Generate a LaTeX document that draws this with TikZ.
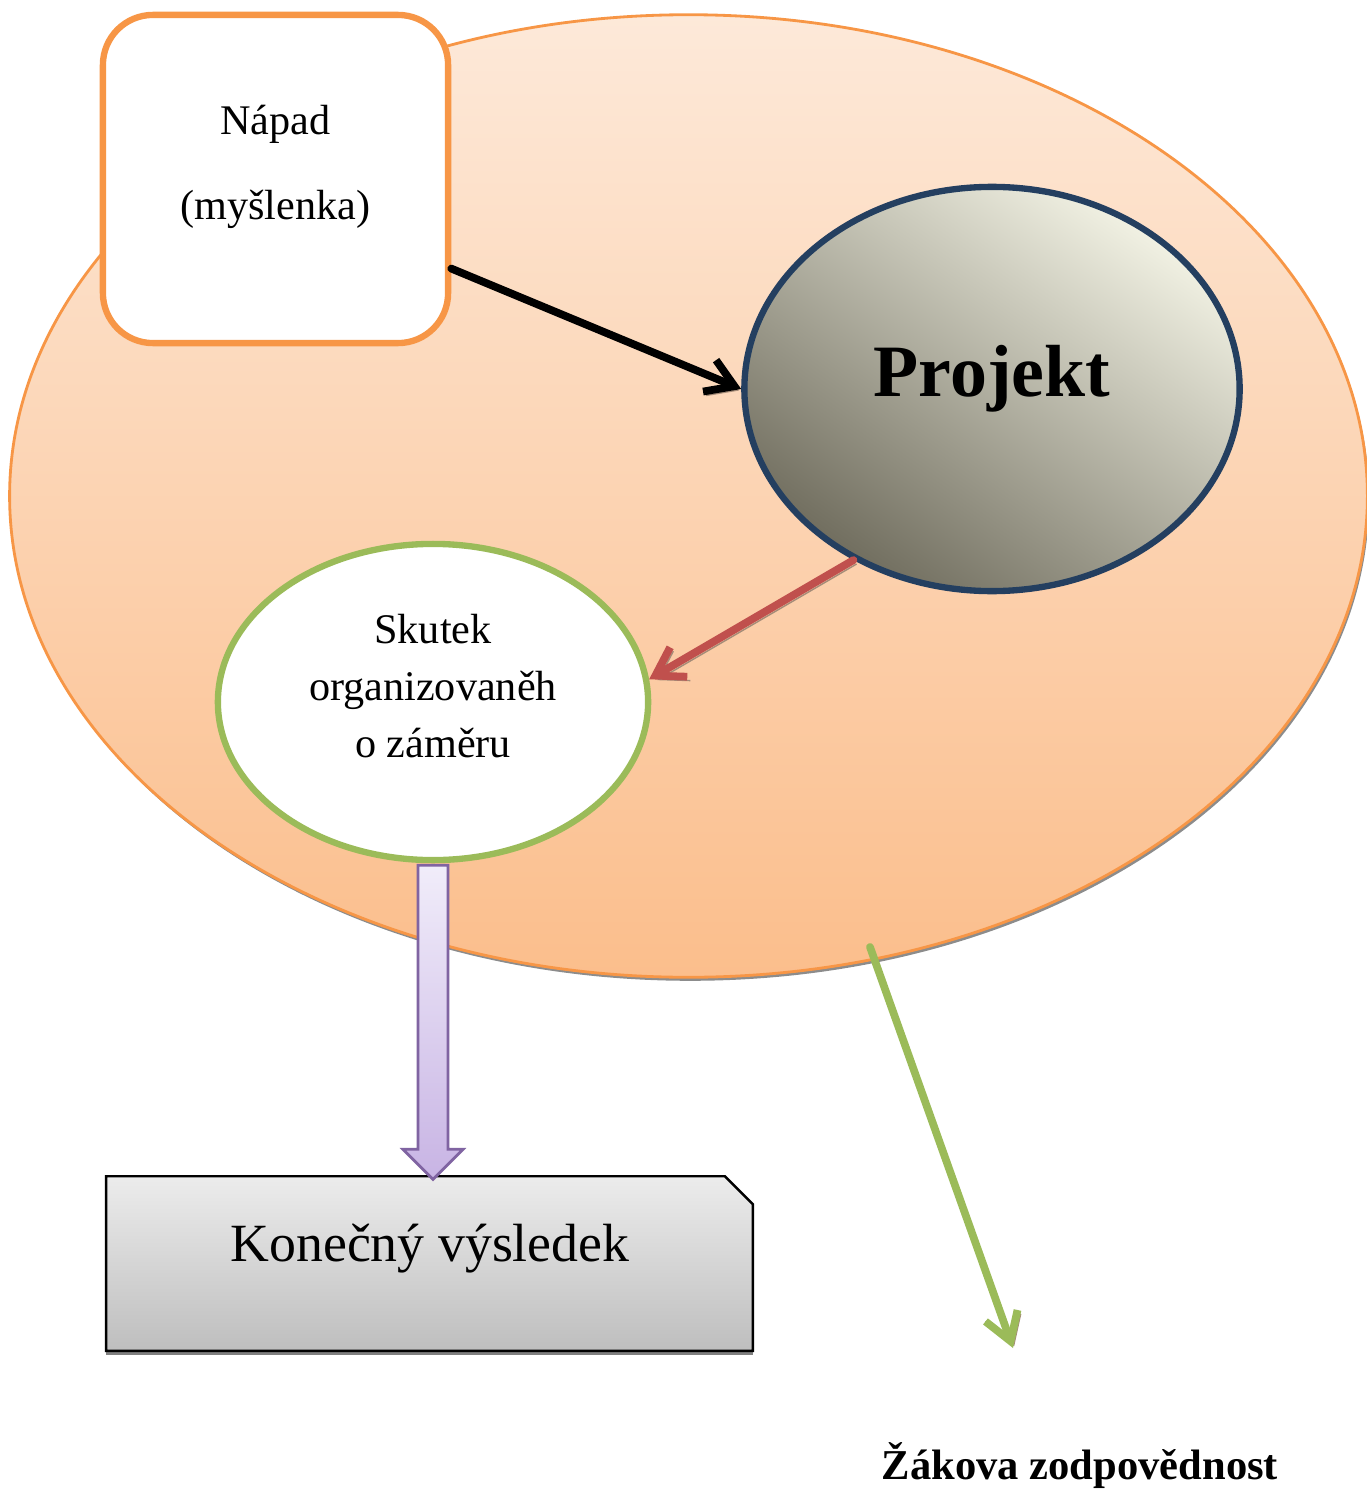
\documentclass[tikz,border=0pt]{standalone}
\usepackage{fontspec}
\setmainfont{Liberation Serif}
\usetikzlibrary{shapes.geometric,arrows.meta,shadows}
\definecolor{ocol}{RGB}{247,150,70}
\definecolor{otop}{RGB}{253,233,217}
\definecolor{obot}{RGB}{251,190,140}
\definecolor{pcol}{RGB}{36,63,96}
\definecolor{ptop}{RGB}{242,242,228}
\definecolor{pbot}{RGB}{112,109,94}
\definecolor{gcol}{RGB}{155,187,89}
\definecolor{rcol}{RGB}{192,80,77}
\definecolor{ucol}{RGB}{128,100,162}
\definecolor{utop}{RGB}{241,237,250}
\definecolor{ubot}{RGB}{200,180,228}
\definecolor{ktop}{RGB}{236,236,236}
\definecolor{kbot}{RGB}{190,190,190}
\definecolor{scol}{RGB}{165,140,120}
\tikzset{every picture/.style={x=.01cm,y=-.01cm}}
\tikzset{area/.style={ellipse,draw=ocol,line width=.8pt,top color=otop,bottom color=obot,minimum width=13.57cm,minimum height=9.62cm,inner sep=0,drop shadow={shadow xshift=.5pt,shadow yshift=-1pt,fill=black!45,opacity=1}}}
\tikzset{ideabox/.style={rectangle,rounded corners=.5cm,draw=ocol,line width=1.8pt,fill=white,minimum width=3.45cm,minimum height=3.28cm}}
\tikzset{projbox/.style={ellipse,draw=pcol,line width=1.8pt,top color=ptop,bottom color=pbot,shading angle=-35,minimum width=4.95cm,minimum height=4.04cm,inner sep=0}}
\tikzset{deedbox/.style={ellipse,draw=gcol,line width=1.8pt,fill=white,minimum width=4.3cm,minimum height=3.16cm,inner sep=0}}
\tikzset{slot/.style={rectangle,minimum width=6.45cm,minimum height=1.73cm,inner sep=0}}
\tikzset{endbox/.style={draw=black,line width=.7pt,top color=ktop,bottom color=kbot,drop shadow={shadow xshift=0pt,shadow yshift=-1.2pt,fill=black!50,opacity=1}}}
\tikzset{label/.style={font=\fontsize{12}{16.3}\selectfont,align=center}}
\tikzset{edge/.style={line width=2.2pt,line cap=round,-{Straight Barb[length=.27cm,width=.34cm]},preaction={draw=scol,transform canvas={shift={(.9pt,-1.1pt)}}}}}
\tikzset{blockarrow/.style={draw=ucol,line width=.8pt,top color=utop,bottom color=ubot}}

\begin{document}
\begin{tikzpicture}
\useasboundingbox (0,0) rectangle (1367,1491);

\node [area] (area) at (688.5,496) {};

\node [ideabox] (napad) at (275.5,179) {};
\node [label,font=\fontsize{12}{24}\selectfont] (napadtext) at (275.5,167) {Nápad\\(myšlenka)};

\node [projbox] (projekt) at (992,389) {};
\node [label,font=\fontsize{21}{25}\selectfont\bfseries] (projekttext) at (992,379) {Projekt};

\node [deedbox] (skutek) at (433,702) {};
\node [label] (skutektext) at (433,686) {Skutek\\organizovaněh\\o záměru};

\node [slot] (konec) at (429.5,1263.5) {};
\path [endbox] (konec.south west) -- (konec.north west) -- ([xshift=-.28cm]konec.north east)
  -- ([yshift=-.28cm]konec.north east) -- (konec.south east) -- cycle;
\node [label,font=\fontsize{15.3}{18}\selectfont] (konectext) at (430,1249) {Konečný výsledek};

\node [label,font=\fontsize{12.1}{15}\selectfont\bfseries] (zakova) at (1080,1466) {Žákova zodpovědnost};

\coordinate (zstart) at (870,947);
\coordinate (zend) at (1013,1348);

\draw [edge,black] (napad.-27.8) -- (projekt.west);
\draw [edge,rcol] (projekt.231) -- (skutek.6);
\draw [edge,gcol,preaction={draw=black!40}] (zstart) -- (zend);

\draw [blockarrow] (skutek.south) ++(-15,2) -- ++(0,284) -- ++(-15,0) -- ++(30,30) -- ++(30,-30) -- ++(-15,0) -- ++(0,-284) -- cycle;
\end{tikzpicture}
\end{document}
